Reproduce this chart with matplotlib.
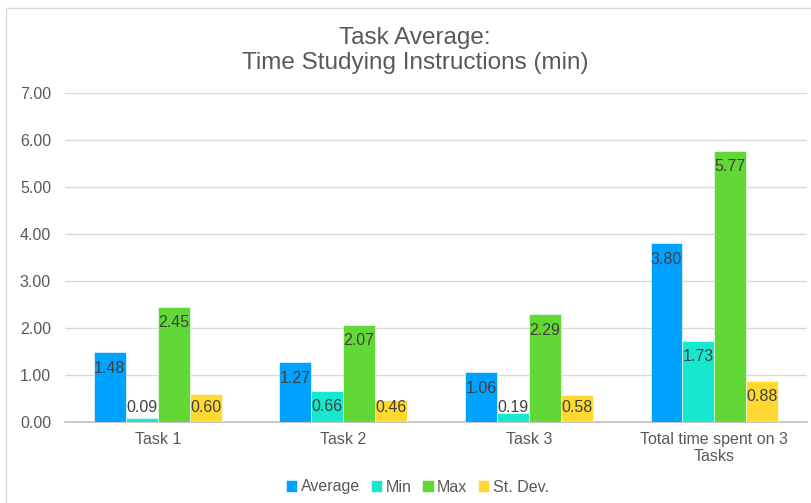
import matplotlib
matplotlib.use("Agg")
import matplotlib.pyplot as plt
import numpy as np
from matplotlib.patches import Rectangle

plt.rcParams['font.family'] = ['Liberation Sans', 'DejaVu Sans']

categories = ["Task 1", "Task 2", "Task 3", "Total time spent on 3\nTasks"]
series_names = ["Average", "Min", "Max", "St. Dev."]
average = [1.48, 1.27, 1.06, 3.80]
minimum = [0.09, 0.66, 0.19, 1.73]
maximum = [2.45, 2.07, 2.29, 5.77]
st_dev = [0.60, 0.46, 0.58, 0.88]
colors = ["#00A2FF", "#16E7CF", "#61D836", "#FFD932"]
y_ticks = [0, 1, 2, 3, 4, 5, 6, 7]

series = [average, minimum, maximum, st_dev]

fig = plt.figure(figsize=(8.12, 5.03), dpi=100)
ax = fig.add_axes([0.080, 0.161, 0.914, 0.654])

x = np.arange(len(categories))
bw = 0.172
offsets = (np.arange(len(series)) - 1.5) * bw

for vals, name, col, off in zip(series, series_names, colors, offsets):
    ax.bar(x + off, vals, width=bw, color=col, label=name,
           edgecolor="white", linewidth=0.4, zorder=3)
    for xi, v in zip(x + off, vals):
        ly = max(v - 0.34, 0.30)
        ax.text(xi, ly, f"{v:.2f}", ha="center", va="center",
                fontsize=11.5, color="#404040", zorder=4)

ax.set_xlim(-0.5, len(categories) - 0.5)
ax.set_ylim(0, 7)
ax.set_yticks(y_ticks)
ax.set_yticklabels([f"{t:.2f}" for t in y_ticks])
ax.set_xticks(x)
ax.set_xticklabels(categories)
ax.yaxis.grid(True, color="#D9D9D9", linewidth=1.0, zorder=0)
ax.set_axisbelow(True)
for s in ["top", "right", "left"]:
    ax.spines[s].set_visible(False)
ax.spines["bottom"].set_color("#BFBFBF")
ax.spines["bottom"].set_linewidth(1.2)
ax.tick_params(axis="both", length=0, labelsize=11.5, colors="#595959")
ax.tick_params(axis="y", pad=10)
ax.tick_params(axis="x", pad=7)

fig.text(0.511, 1 - 38 / 503, "Task Average:", ha="center", va="center",
         fontsize=17.5, color="#595959")
fig.text(0.511, 1 - 63 / 503, "Time Studying Instructions (min)", ha="center",
         va="center", fontsize=17.5, color="#595959")

leg = fig.legend(loc="center", bbox_to_anchor=(0.514, 1 - 487 / 503), ncol=4,
                 frameon=False, fontsize=11.5, handlelength=0.7,
                 handleheight=0.7, handletextpad=0.2, columnspacing=0.7)
for t in leg.get_texts():
    t.set_color("#595959")

# chart frame
fig.patches.append(Rectangle((6 / 812, -0.01), 1.1, 1 - 8 / 503 + 0.01,
                             transform=fig.transFigure, fill=False,
                             edgecolor="#D9D9D9", linewidth=1.0))

fig.savefig("out.png", dpi=100)
